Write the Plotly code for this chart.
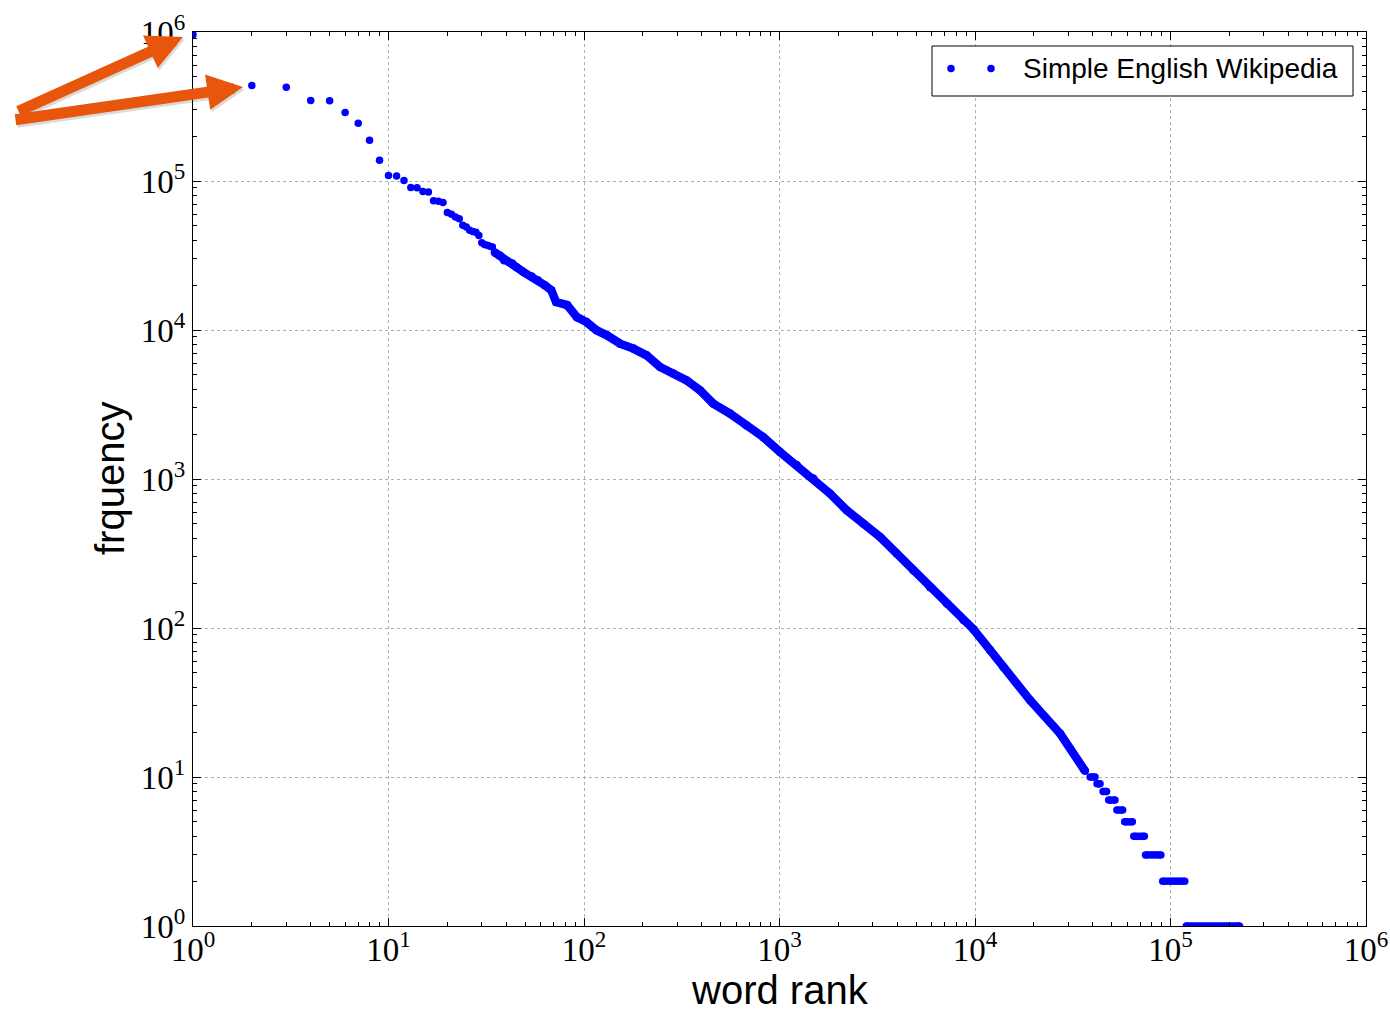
import plotly.graph_objects as go

# ---- data ----
HEAD_RANKS = list(range(1, 35))
HEAD_FREQS = [960000, 438000, 425000, 347000, 345000, 288000, 244000, 188000, 138000, 109000,
              108000, 100700, 90400, 90000, 84900, 84500, 73800, 73100, 71600, 61400,
              59800, 57300, 55900, 50500, 49100, 46700, 45800, 45300, 43000, 38500,
              37500, 37100, 36500, 36100]

BAND_RANKS = [35, 37, 39, 43, 45, 49, 54, 58, 63, 68, 72, 82, 92, 103, 116, 131, 153, 179, 209,
              245, 286, 335, 392, 458, 558, 679, 826, 1006, 1225, 1489, 1813, 2207, 2685, 3268,
              3978, 4840, 5890, 7175, 8730, 9820, 11950, 13970, 19150, 27300, 36500]
BAND_FREQS = [33100, 31700, 29400, 27900, 26500, 24500, 22900, 21600, 20000, 18500, 15400, 14700,
              12200, 11300, 9950, 9210, 8100, 7500, 6760, 5650, 5100, 4590, 3940, 3210, 2750,
              2290, 1910, 1520, 1240, 1007, 798, 617, 502, 408, 316, 244, 188, 146, 113, 98,
              71, 54.7, 32.7, 19.5, 11]

PLATEAU_FREQS = [10, 9, 8, 7, 6, 5, 4, 3, 2, 1]
PLATEAU_START = [38800, 42100, 45200, 48300, 53200, 58300, 64900, 74500, 91200, 120500]
PLATEAU_END = [41100, 43600, 47100, 52000, 56900, 63800, 73500, 89300, 118300, 225400]

TICK_VALS = [1, 10, 100, 1000, 10000, 100000, 1000000]
TICK_TEXT = ["10<sup>%d</sup>" % i for i in range(7)]

LEGEND_LABEL = "Simple English Wikipedia"
X_TITLE = "word rank"
Y_TITLE = "frquency"

BLUE = "#0000FF"
ORANGE = "#E8560D"
MS = 7.5
BW = 8.5

px_, py_ = [], []
for f, s, e in zip(PLATEAU_FREQS, PLATEAU_START, PLATEAU_END):
    px_ += [s, e, None]
    py_ += [f, f, None]

fig = go.Figure()
fig.add_trace(go.Scatter(x=HEAD_RANKS, y=HEAD_FREQS, mode="markers",
                         marker=dict(color=BLUE, size=MS, line=dict(width=0)),
                         showlegend=False))
fig.add_trace(go.Scatter(x=BAND_RANKS, y=BAND_FREQS, mode="lines+markers",
                         line=dict(color=BLUE, width=BW),
                         marker=dict(color=BLUE, size=BW, line=dict(width=0)),
                         showlegend=False))
fig.add_trace(go.Scatter(x=px_, y=py_, mode="lines+markers",
                         line=dict(color=BLUE, width=MS),
                         marker=dict(color=BLUE, size=MS, line=dict(width=0)),
                         showlegend=False))

axis_common = dict(
    type="log", range=[0, 6],
    tickvals=TICK_VALS, ticktext=TICK_TEXT,
    tickfont=dict(family="Liberation Serif", size=33, color="black"),
    showline=True, linecolor="black", linewidth=1, mirror="allticks",
    ticks="inside", ticklen=8, tickcolor="black", tickwidth=1,
    minor=dict(ticks="inside", ticklen=4, tickcolor="black", tickwidth=1,
               dtick="D1", showgrid=False),
    showgrid=True, gridcolor="#b0b0b0", griddash="dot", gridwidth=1,
    zeroline=False, automargin=False,
)

fig.update_xaxes(**axis_common, ticklabelstandoff=-6)
fig.update_yaxes(**axis_common)

W, H = 1390, 1009
L, R, T, B = 193, 24, 32, 83
pw, ph = W - L - R, H - T - B

def xp(pix):
    return (pix - L) / pw

def yp(pix):
    return (H - B - pix) / ph

shapes = [
    dict(type="rect", xref="paper", yref="paper",
         x0=xp(932), x1=xp(1353), y0=yp(96), y1=yp(46),
         fillcolor="white", line=dict(color="black", width=1), layer="above"),
]
for cx in (951, 991):
    shapes.append(dict(type="circle", xref="paper", yref="paper",
                       xsizemode="pixel", ysizemode="pixel",
                       xanchor=xp(cx), yanchor=yp(68.5),
                       x0=-MS / 2, x1=MS / 2, y0=-MS / 2, y1=MS / 2,
                       fillcolor=BLUE, line=dict(width=0), layer="above"))

annotations = [
    dict(text=LEGEND_LABEL, xref="paper", yref="paper", x=xp(1021), y=yp(69),
         xanchor="left", yanchor="middle", showarrow=False,
         font=dict(family="Liberation Sans", size=28, color="black")),
    dict(text=X_TITLE, xref="paper", yref="paper", x=0.5, y=yp(990),
         xanchor="center", yanchor="middle", showarrow=False,
         font=dict(family="Liberation Sans", size=40, color="black")),
    dict(text=Y_TITLE, xref="paper", yref="paper", x=xp(110), y=0.5,
         xanchor="center", yanchor="middle", showarrow=False, textangle=-90,
         font=dict(family="Liberation Sans", size=40, color="black")),
]

# orange arrows (soft shadow first, then arrow)
for (tipx, tipy, tailx, taily) in [(183, 37, 17, 112), (243, 87, 14, 120)]:
    for dx, dy, col in [(1.5, 2.5, "rgba(0,0,0,0.14)"), (0, 0, ORANGE)]:
        annotations.append(dict(
            text="", xref="paper", yref="paper",
            x=xp(tipx + dx), y=yp(tipy + dy),
            ax=tailx - tipx, ay=taily - tipy, axref="pixel", ayref="pixel",
            showarrow=True, arrowhead=2, arrowsize=0.65, arrowwidth=11,
            arrowcolor=col, standoff=0, startstandoff=0))

fig.update_layout(
    width=W, height=H,
    margin=dict(l=L, r=R, t=T, b=B, pad=0, autoexpand=False),
    paper_bgcolor="white", plot_bgcolor="white",
    showlegend=False,
    shapes=shapes, annotations=annotations,
)

fig.write_html("out.html", config={"displayModeBar": False},
               post_script="document.body.style.margin='0px';document.body.style.overflow='hidden';")
